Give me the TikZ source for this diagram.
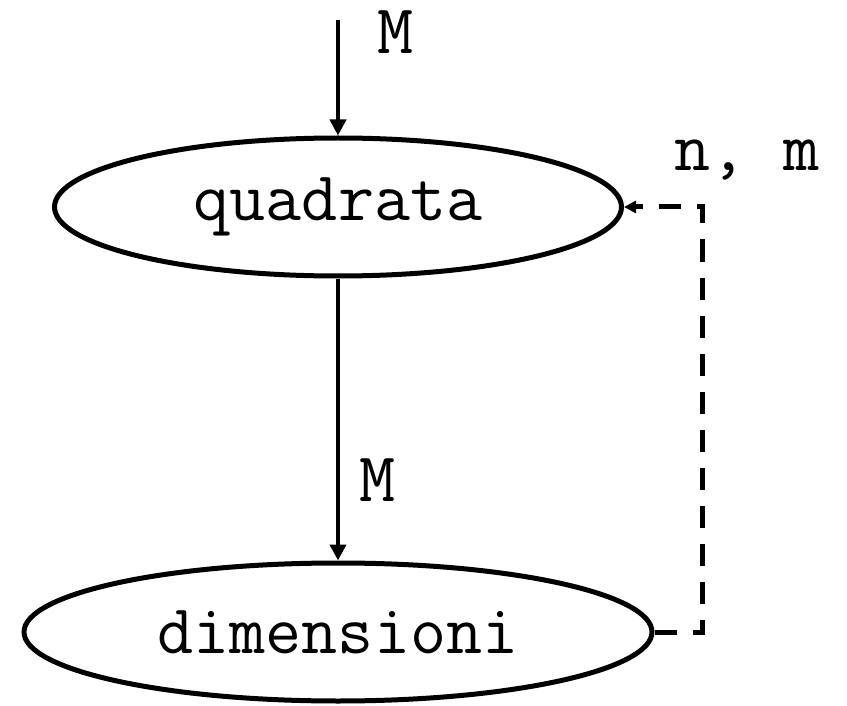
\documentclass[tikz,border=0pt]{standalone}
\usetikzlibrary{arrows.meta,positioning,shapes.geometric}

\begin{document}
\begin{tikzpicture}[x=0.5pt,y=-0.5pt,node distance=141pt,font=\ttfamily\fontsize{35}{42}\selectfont,blob/.style={draw,ellipse,line width=2.5pt,inner sep=0pt,minimum height=69pt},arrow/.style={-{Triangle[length=8pt,width=8pt]},line width=2pt},back/.style={-{Triangle[length=6pt,width=6pt]},line width=2.5pt,dash pattern=on 11pt off 8pt}]
\useasboundingbox (0,0) rectangle (847,706);
\node[blob,minimum width=283.5pt] (quad) at (338,207) {quadrata};
\node[blob,minimum width=314pt,below=of quad] (dim) {dimensioni};
\coordinate (in) at (338,20);
\coordinate (turn) at (702,207);
\node (mtop) at (396,32) {M};
\node (mmid) at (378,480) {M};
\node (nm) at (747,160) {n, m};
\draw[arrow] (in)--(quad); \draw[arrow] (quad)--(dim);
\draw[back] (dim.east) -| (turn) -- (quad.east);
\end{tikzpicture}
\end{document}
